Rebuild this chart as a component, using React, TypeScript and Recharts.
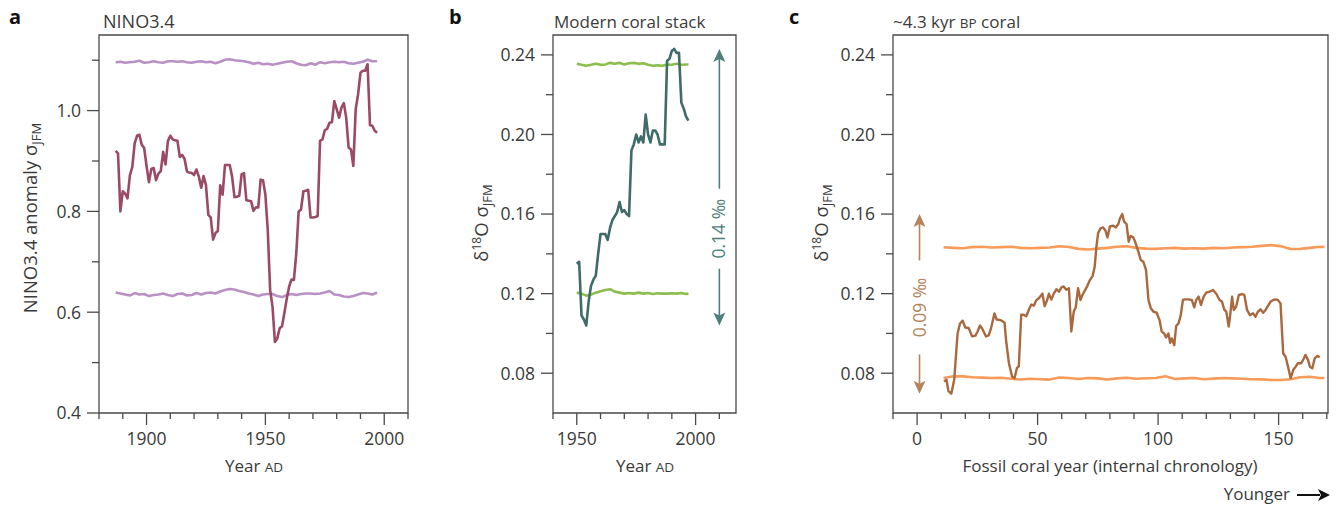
import React from "react";
import { LineChart, Line, XAxis, YAxis, ReferenceArea, ReferenceLine } from "recharts";

// ---------- data ----------
const seq = (start: number, step: number, n: number) =>
  Array.from({ length: n }, (_, i) => start + i * step);

// a: NINO3.4 running sigma, 1887-1997
const ninoStart = 1887;
const ninoSigma = [
  0.92, 0.915, 0.8, 0.84, 0.835, 0.826, 0.872, 0.888, 0.935, 0.95,
  0.952, 0.932, 0.926, 0.89, 0.858, 0.884, 0.886, 0.862, 0.875, 0.88,
  0.918, 0.893, 0.94, 0.95, 0.943, 0.941, 0.94, 0.908, 0.912, 0.904,
  0.879, 0.877, 0.876, 0.872, 0.883, 0.869, 0.847, 0.87, 0.852, 0.793,
  0.788, 0.744, 0.757, 0.761, 0.852, 0.833, 0.892, 0.892, 0.892, 0.869,
  0.828, 0.829, 0.831, 0.874, 0.876, 0.822, 0.821, 0.82, 0.801, 0.808,
  0.808, 0.863, 0.862, 0.833, 0.763, 0.644, 0.611, 0.541, 0.548, 0.568,
  0.572, 0.599, 0.627, 0.651, 0.665, 0.664, 0.717, 0.8, 0.804, 0.84,
  0.841, 0.843, 0.788, 0.788, 0.789, 0.791, 0.94, 0.943, 0.961, 0.964,
  0.976, 0.977, 1.019, 1.003, 0.986, 1.006, 1.015, 0.986, 0.927, 0.923,
  0.89, 1.003, 1.032, 1.075, 1.079, 1.079, 1.092, 0.971, 0.97, 0.96,
  0.956,
];
const ninoBandYears = seq(1887, 2, 56);
const ninoUpper = [
  1.096, 1.097, 1.095, 1.096, 1.097, 1.099, 1.095, 1.096, 1.098, 1.096,
  1.095, 1.098, 1.098, 1.097, 1.098, 1.096, 1.095, 1.097, 1.098, 1.096,
  1.097, 1.094, 1.097, 1.101, 1.102, 1.1, 1.099, 1.098, 1.096, 1.093,
  1.095, 1.092, 1.093, 1.091, 1.093, 1.095, 1.097, 1.098, 1.094, 1.091,
  1.09, 1.094, 1.091, 1.096, 1.094, 1.096, 1.097, 1.096, 1.097, 1.094,
  1.093, 1.095, 1.097, 1.101, 1.098, 1.098,
];
const ninoLower = [
  0.639, 0.637, 0.635, 0.633, 0.638, 0.635, 0.636, 0.632, 0.634, 0.635,
  0.637, 0.634, 0.632, 0.636, 0.637, 0.633, 0.634, 0.638, 0.635, 0.638,
  0.639, 0.637, 0.641, 0.644, 0.646, 0.645, 0.642, 0.64, 0.637, 0.635,
  0.632, 0.635, 0.636, 0.636, 0.632, 0.63, 0.634, 0.636, 0.634, 0.636,
  0.637, 0.637, 0.636, 0.637, 0.639, 0.642, 0.635, 0.634, 0.631, 0.63,
  0.632, 0.635, 0.638, 0.637, 0.635, 0.639,
];

// b: modern coral stack, 1950-1997
const modernStart = 1950;
const modernSigma = [
  0.135, 0.136, 0.109, 0.107, 0.104, 0.116, 0.124, 0.127, 0.129, 0.14,
  0.15, 0.15, 0.15, 0.147, 0.153, 0.157, 0.159, 0.161, 0.166, 0.161,
  0.162, 0.16, 0.159, 0.192, 0.195, 0.2, 0.196, 0.199, 0.196, 0.21,
  0.2, 0.196, 0.202, 0.202, 0.2, 0.195, 0.195, 0.195, 0.237, 0.238,
  0.242, 0.243, 0.241, 0.241, 0.216, 0.213, 0.209, 0.207,
];
const modernBandYears = [...seq(1950, 2, 24), 1997];
const modernUpper = [
  0.2355, 0.235, 0.2345, 0.235, 0.2355, 0.235, 0.2352, 0.236, 0.2355, 0.236,
  0.2352, 0.2358, 0.236, 0.2355, 0.2358, 0.235, 0.2345, 0.2348, 0.2345, 0.2352,
  0.235, 0.2355, 0.235, 0.2352, 0.2352,
];
const modernLower = [
  0.1205, 0.12, 0.119, 0.1195, 0.1205, 0.1212, 0.1218, 0.1222, 0.121, 0.1205,
  0.12, 0.1203, 0.12, 0.1205, 0.12, 0.1203, 0.1198, 0.1202, 0.12, 0.12,
  0.1202, 0.12, 0.1203, 0.1198, 0.12,
];

// c: ~4.3 kyr BP fossil coral, internal chronology
const fossilYear = [
  11.2, 12.2, 13.0, 14.2, 15.4, 16.8, 17.8, 18.9, 20.0, 21.4,
  22.8, 24.2, 25.1, 26.1, 27.2, 28.6, 29.7, 30.7, 32.1, 33.0,
  34.6, 36.3, 36.9, 38.1, 39.4, 40.4, 41.4, 42.2, 43.2, 44.2,
  45.3, 46.4, 47.4, 48.5, 49.4, 50.6, 52.0, 52.9, 53.9, 54.7,
  55.7, 56.7, 57.8, 58.9, 59.9, 60.8, 61.9, 63.0, 64.0, 65.0,
  65.8, 66.8, 67.8, 68.6, 69.6, 70.6, 71.7, 72.8, 73.7, 74.4,
  75.1, 76.1, 77.2, 78.2, 79.0, 80.0, 81.4, 82.5, 83.5, 84.2,
  85.1, 85.9, 86.9, 87.8, 88.6, 89.7, 90.7, 91.8, 92.8, 93.9,
  95.0, 96.0, 97.0, 98.1, 99.4, 100.6, 101.5, 102.5, 103.3, 104.3,
  105.0, 105.7, 106.7, 107.5, 108.5, 109.4, 110.3, 111.2, 112.6, 114.0,
  115.0, 115.8, 116.8, 117.8, 118.9, 120.0, 121.4, 122.8, 124.2, 125.5,
  126.5, 127.5, 128.3, 129.3, 130.0, 130.7, 131.4, 132.4, 133.5, 134.9,
  135.8, 136.9, 138.1, 139.4, 140.4, 141.4, 142.5, 143.6, 144.6, 145.6,
  146.7, 147.8, 148.8, 149.7, 150.8, 151.9, 152.9, 153.9, 155.0, 156.1,
  157.1, 158.0, 159.4, 160.3, 161.2, 162.2, 163.0, 164.0, 165.0, 166.1, 167.1,
];
const fossilSigma = [
  0.0758, 0.0767, 0.071, 0.0697, 0.0767, 0.1, 0.105, 0.1064, 0.103, 0.1027,
  0.0985, 0.0989, 0.101, 0.104, 0.102, 0.0985, 0.099, 0.1027, 0.11, 0.107,
  0.1067, 0.1054, 0.0967, 0.085, 0.0783, 0.0775, 0.0825, 0.0834, 0.1094, 0.1094,
  0.1086, 0.112, 0.1145, 0.114, 0.1166, 0.1178, 0.12, 0.1137, 0.1165, 0.12,
  0.117, 0.12, 0.1222, 0.121, 0.1232, 0.1236, 0.122, 0.1227, 0.101, 0.111,
  0.113, 0.1227, 0.1168, 0.1193, 0.1215, 0.1238, 0.1268, 0.1288, 0.1335, 0.1436,
  0.1503, 0.1528, 0.1533, 0.1516, 0.1483, 0.1538, 0.1541, 0.1533, 0.155, 0.1579,
  0.16, 0.1562, 0.155, 0.1461, 0.149, 0.1483, 0.1453, 0.1411, 0.1369, 0.136,
  0.1318, 0.1168, 0.1126, 0.1109, 0.1104, 0.1067, 0.1009, 0.1, 0.098, 0.1,
  0.0953, 0.0975, 0.0941, 0.1037, 0.1051, 0.1092, 0.1168, 0.1171, 0.1171, 0.1168,
  0.1131, 0.1168, 0.1185, 0.1143, 0.1185, 0.1205, 0.121, 0.1218, 0.1198, 0.1168,
  0.116, 0.1118, 0.1109, 0.1034, 0.1101, 0.1185, 0.1118, 0.1135, 0.1193, 0.1198,
  0.1193, 0.1118, 0.1092, 0.1101, 0.1084, 0.1109, 0.1121, 0.1104, 0.1118, 0.1138,
  0.116, 0.1168, 0.1171, 0.1168, 0.1151, 0.09, 0.0883, 0.0833, 0.0775, 0.0817,
  0.0833, 0.085, 0.085, 0.087, 0.0892, 0.0867, 0.0833, 0.0825, 0.0875, 0.0887, 0.088,
];
const fossilBandYears = [...seq(11, 4, 40), 169];
const fossilUpper = [
  0.1433, 0.143, 0.1428, 0.1434, 0.1436, 0.1432, 0.1434, 0.1436, 0.143, 0.1428,
  0.143, 0.1432, 0.1438, 0.1434, 0.1425, 0.1422, 0.1426, 0.143, 0.1436, 0.1438,
  0.143, 0.1426, 0.1425, 0.1428, 0.143, 0.1426, 0.1428, 0.1426, 0.143, 0.1428,
  0.1432, 0.1434, 0.1436, 0.144, 0.1444, 0.1438, 0.1424, 0.1425, 0.143, 0.1436,
  0.1434,
];
const fossilLower = [
  0.0776, 0.0785, 0.0784, 0.078, 0.0778, 0.0776, 0.0777, 0.0772, 0.0768, 0.0772,
  0.077, 0.0768, 0.0778, 0.0776, 0.0771, 0.0776, 0.0774, 0.0768, 0.0774, 0.0777,
  0.0772, 0.0775, 0.0776, 0.0785, 0.0771, 0.0774, 0.0776, 0.077, 0.0773, 0.0776,
  0.0774, 0.0772, 0.077, 0.0769, 0.0766, 0.0766, 0.077, 0.078, 0.0782, 0.0776,
  0.0776,
];

// axis ticks
const ninoYTicks = [0.4, 0.5, 0.6, 0.7, 0.8, 0.9, 1.0, 1.1];
const ninoYLabels = [0.4, 0.6, 0.8, 1.0];
const ninoXTicks = seq(1880, 10, 14);
const ninoXLabels = [1900, 1950, 2000];
const coralYTicks = [0.08, 0.1, 0.12, 0.14, 0.16, 0.18, 0.2, 0.22, 0.24];
const coralYLabels = [0.08, 0.12, 0.16, 0.2, 0.24];
const modernXTicks = seq(1940, 10, 8);
const modernXLabels = [1950, 2000];
const fossilXTicks = seq(-10, 10, 19);
const fossilXLabels = [0, 50, 100, 150];

// ---------- styling ----------
const FONT = "'Open Sans', 'DejaVu Sans', sans-serif";
const INK = "#3a3a3a";
const AXIS = "#4a4a4a";
const H = 506;
const PLOT_TOP = 35;
const PLOT_BOTTOM = 413;
const YW = 60;
const XH = 50;

const pts = (xs: number[], ys: number[]) => xs.map((x, i) => ({ x, y: ys[i] }));
const has = (list: number[], v: number) => list.some((l) => Math.abs(l - v) < 1e-9);

const yTick = (labels: number[], digits: number) => (props: any) => {
  const { x, y, payload } = props;
  const major = has(labels, payload.value);
  return (
    <g>
      <line x1={x - (major ? 12 : 7)} x2={x} y1={y} y2={y} stroke={AXIS} strokeWidth={1.3} />
      {major && (
        <text x={x - 18} y={y} dy="0.36em" textAnchor="end" fontFamily={FONT} fontSize={17.5} fill={INK}>
          {payload.value.toFixed(digits)}
        </text>
      )}
    </g>
  );
};

const xTick = (labels: number[]) => (props: any) => {
  const { x, y, payload } = props;
  const major = has(labels, payload.value);
  return (
    <g>
      <line x1={x} x2={x} y1={y} y2={y + (major ? 12 : 6)} stroke={AXIS} strokeWidth={1.3} />
      {major && (
        <text x={x} y={y + 32} textAnchor="middle" fontFamily={FONT} fontSize={17.5} fill={INK}>
          {payload.value}
        </text>
      )}
    </g>
  );
};

const arrowShape = (color: string, label: string, frac: number, gap: number) => (p: any) => {
  const x = p.x1;
  const top = Math.min(p.y1, p.y2);
  const bot = Math.max(p.y1, p.y2);
  const mid = top + (bot - top) * frac;
  return (
    <g>
      <line x1={x} x2={x} y1={top + 8} y2={mid - gap} stroke={color} strokeWidth={1.6} />
      <line x1={x} x2={x} y1={mid + gap} y2={bot - 8} stroke={color} strokeWidth={1.6} />
      <path d={`M${x - 6},${top + 13} L${x},${top} L${x + 6},${top + 13} L${x},${top + 10} Z`} fill={color} />
      <path d={`M${x - 6},${bot - 13} L${x},${bot} L${x + 6},${bot - 13} L${x},${bot - 10} Z`} fill={color} />
      <text
        transform={`translate(${x + 6},${mid}) rotate(-90)`}
        textAnchor="middle"
        fontFamily={FONT}
        fontSize={17.5}
        fill={color}
      >
        {label}
      </text>
    </g>
  );
};

type Series = { data: { x: number; y: number }[]; color: string; width: number };

interface PanelProps {
  left: number;
  width: number;
  plotLeft: number;
  plotRight: number;
  xDomain: [number, number];
  yDomain: [number, number];
  xTicks: number[];
  xLabels: number[];
  yTicks: number[];
  yLabels: number[];
  yDigits: number;
  series: Series[];
  arrow?: { x: number; color: string; label: string; frac: number; gap: number; lo: number; hi: number };
}

const Panel = (p: PanelProps) => {
  const margin = {
    top: PLOT_TOP,
    bottom: H - PLOT_BOTTOM - XH,
    left: p.plotLeft - p.left - YW,
    right: p.left + p.width - p.plotRight,
  };
  return (
    <div style={{ position: "absolute", left: p.left, top: 0 }}>
      <LineChart width={p.width} height={H} margin={margin}>
        <XAxis
          type="number"
          dataKey="x"
          domain={p.xDomain}
          ticks={p.xTicks}
          interval={0}
          allowDataOverflow
          height={XH}
          tickSize={0}
          tickMargin={0}
          tickLine={false}
          axisLine={false}
          tick={xTick(p.xLabels)}
        />
        <YAxis
          type="number"
          domain={p.yDomain}
          ticks={p.yTicks}
          interval={0}
          allowDataOverflow
          width={YW}
          tickSize={0}
          tickMargin={0}
          tickLine={false}
          axisLine={false}
          tick={yTick(p.yLabels, p.yDigits)}
        />
        <ReferenceArea
          x1={p.xDomain[0]}
          x2={p.xDomain[1]}
          y1={p.yDomain[0]}
          y2={p.yDomain[1]}
          fill="none"
          stroke={AXIS}
          strokeWidth={1.3}
          ifOverflow="visible"
        />
        {p.series.map((s, i) => (
          <Line
            key={i}
            data={s.data}
            dataKey="y"
            type="linear"
            stroke={s.color}
            strokeWidth={s.width}
            strokeLinejoin="round"
            dot={false}
            activeDot={false}
            isAnimationActive={false}
          />
        ))}
        {p.arrow && (
          <ReferenceLine
            segment={[
              { x: p.arrow.x, y: p.arrow.hi },
              { x: p.arrow.x, y: p.arrow.lo },
            ]}
            ifOverflow="visible"
            shape={arrowShape(p.arrow.color, p.arrow.label, p.arrow.frac, p.arrow.gap)}
          />
        )}
      </LineChart>
    </div>
  );
};

const txt = { fontFamily: FONT, fill: INK } as const;

export default function App() {
  const ninoYears = ninoSigma.map((_, i) => ninoStart + i);
  const modernYears = modernSigma.map((_, i) => modernStart + i);
  return (
    <div style={{ position: "absolute", left: 0, top: 0, width: 1336, height: H, background: "#fff" }}>
      <Panel
        left={0}
        width={430}
        plotLeft={99}
        plotRight={408}
        xDomain={[1880, 2010]}
        yDomain={[0.4, 1.15]}
        xTicks={ninoXTicks}
        xLabels={ninoXLabels}
        yTicks={ninoYTicks}
        yLabels={ninoYLabels}
        yDigits={1}
        series={[
          { data: pts(ninoBandYears, ninoUpper), color: "#b990c4", width: 2.6 },
          { data: pts(ninoBandYears, ninoLower), color: "#b990c4", width: 2.6 },
          { data: pts(ninoYears, ninoSigma), color: "#9a4a66", width: 2.6 },
        ]}
      />
      <Panel
        left={440}
        width={320}
        plotLeft={553}
        plotRight={736}
        xDomain={[1940, 2017]}
        yDomain={[0.06, 0.25]}
        xTicks={modernXTicks}
        xLabels={modernXLabels}
        yTicks={coralYTicks}
        yLabels={coralYLabels}
        yDigits={2}
        series={[
          { data: pts(modernBandYears, modernUpper), color: "#8cbd4e", width: 2.6 },
          { data: pts(modernBandYears, modernLower), color: "#8cbd4e", width: 2.6 },
          { data: pts(modernYears, modernSigma), color: "#3f6b69", width: 2.6 },
        ]}
        arrow={{
          x: 2010,
          color: "#4f7f7b",
          label: "0.14 ‰",
          frac: 0.65,
          gap: 40,
          lo: Math.min(...modernSigma),
          hi: Math.max(...modernSigma),
        }}
      />
      <Panel
        left={780}
        width={556}
        plotLeft={893}
        plotRight={1328}
        xDomain={[-10, 170.5]}
        yDomain={[0.06, 0.25]}
        xTicks={fossilXTicks}
        xLabels={fossilXLabels}
        yTicks={coralYTicks}
        yLabels={coralYLabels}
        yDigits={2}
        series={[
          { data: pts(fossilBandYears, fossilUpper), color: "#f79a5a", width: 2.6 },
          { data: pts(fossilBandYears, fossilLower), color: "#f79a5a", width: 2.6 },
          { data: pts(fossilYear, fossilSigma), color: "#a8693e", width: 2.4 },
        ]}
        arrow={{
          x: 1,
          color: "#b5835c",
          label: "0.09 ‰",
          frac: 0.52,
          gap: 47,
          lo: Math.min(...fossilSigma),
          hi: Math.max(...fossilSigma),
        }}
      />

      <svg
        width={1336}
        height={H}
        style={{ position: "absolute", left: 0, top: 0, pointerEvents: "none" }}
      >
        {/* panel letters */}
        <text x={9} y={24} fontFamily={FONT} fontWeight={700} fontSize={20} fill="#111">a</text>
        <text x={449} y={24} fontFamily={FONT} fontWeight={700} fontSize={20} fill="#111">b</text>
        <text x={789} y={24} fontFamily={FONT} fontWeight={700} fontSize={20} fill="#111">c</text>

        {/* titles */}
        <text x={103} y={28} fontSize={18} {...txt}>NINO3.4</text>
        <text x={554} y={28} fontSize={17} {...txt}>Modern coral stack</text>
        <text x={893} y={28} fontSize={17} {...txt}>
          ~4.3 kyr <tspan fontSize={13.5}>BP</tspan> coral
        </text>

        {/* x-axis titles */}
        <text x={254} y={472} textAnchor="middle" fontSize={17} {...txt}>
          Year <tspan fontSize={13.5}>AD</tspan>
        </text>
        <text x={645} y={472} textAnchor="middle" fontSize={17} {...txt}>
          Year <tspan fontSize={13.5}>AD</tspan>
        </text>
        <text x={1110} y={472} textAnchor="middle" fontSize={17} {...txt}>
          Fossil coral year (internal chronology)
        </text>
        <text x={1290} y={500} textAnchor="end" fontSize={17} {...txt}>Younger</text>
        <line x1={1297} x2={1320} y1={495} y2={495} stroke="#111" strokeWidth={2} />
        <path d="M1318,489 L1330,495 L1318,501 L1321,495 Z" fill="#111" />

        {/* y-axis titles */}
        <text transform="translate(37,218) rotate(-90)" textAnchor="middle" fontSize={18.5} {...txt}>
          NINO3.4 anomaly σ<tspan fontSize={13} dy={4}>JFM</tspan>
        </text>
        <text transform="translate(488,223) rotate(-90)" textAnchor="middle" fontSize={18.5} {...txt}>
          δ<tspan fontSize={12} dy={-7}>18</tspan>
          <tspan dy={7}>O σ</tspan>
          <tspan fontSize={13} dy={4}>JFM</tspan>
        </text>
        <text transform="translate(828,223) rotate(-90)" textAnchor="middle" fontSize={18.5} {...txt}>
          δ<tspan fontSize={12} dy={-7}>18</tspan>
          <tspan dy={7}>O σ</tspan>
          <tspan fontSize={13} dy={4}>JFM</tspan>
        </text>
      </svg>
    </div>
  );
}
